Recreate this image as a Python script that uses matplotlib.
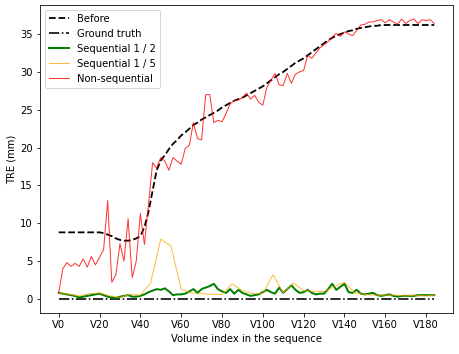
import matplotlib
matplotlib.use("Agg")
import matplotlib.pyplot as plt
import numpy as np

# volume indices
idx2 = list(range(0, 185, 2))
idx5 = list(range(0, 181, 5)) + [184]

before = [8.8, 8.8, 8.8, 8.8, 8.8, 8.8, 8.8, 8.8, 8.8, 8.8, 8.8,
          8.7, 8.5, 8.3, 8.0, 7.8, 7.7, 7.7, 7.8, 8.0, 8.3,
          9.5, 11.5, 14.3, 17.0, 18.3, 19.0, 19.8, 20.5, 21.0, 21.6,
          22.0, 22.5, 23.0, 23.3, 23.7, 24.0, 24.3, 24.6, 24.9, 25.3,
          25.6, 25.9, 26.2, 26.4, 26.6, 26.9, 27.2, 27.5, 27.8, 28.1,
          28.5, 28.9, 29.3, 29.7, 30.0, 30.4, 30.8, 31.2, 31.5, 31.8,
          32.2, 32.6, 33.0, 33.4, 33.8, 34.2, 34.5, 34.8, 35.0, 35.2,
          35.4, 35.5, 35.7, 35.8, 35.9, 36.0, 36.1, 36.1, 36.2, 36.2,
          36.2, 36.2, 36.2, 36.2, 36.2, 36.2, 36.2, 36.2, 36.2, 36.2,
          36.2, 36.2]

ground_truth = [0.0] * len(idx2)

seq_half = [0.8, 0.7, 0.6, 0.5, 0.4, 0.2, 0.3, 0.4, 0.5, 0.6, 0.7,
            0.5, 0.3, 0.2, 0.1, 0.3, 0.4, 0.5, 0.3, 0.3, 0.4,
            0.6, 0.9, 1.1, 1.3, 1.2, 1.4, 1.0, 0.5, 0.6, 0.6,
            0.7, 1.0, 1.3, 0.8, 1.3, 1.5, 1.7, 2.0, 1.3, 1.0,
            0.8, 1.3, 0.7, 1.2, 0.8, 0.6, 0.4, 0.5, 0.6, 0.9,
            1.2, 0.9, 0.7, 1.5, 0.8, 1.3, 1.8, 1.2, 0.8, 0.9,
            1.2, 0.8, 0.6, 0.7, 0.7, 1.3, 2.0, 1.2, 1.6, 2.0,
            0.9, 0.8, 1.2, 0.7, 0.6, 0.7, 0.8, 0.5, 0.4, 0.5,
            0.6, 0.4, 0.3, 0.4, 0.4, 0.4, 0.4, 0.5, 0.5, 0.5,
            0.5, 0.5]

seq_fifth = [0.8, 0.6, 0.4, 0.7, 0.8, 0.4, 0.2, 0.6, 0.5, 2.1,
             7.9, 7.0, 1.3, 0.8, 0.7, 0.6, 0.6, 2.0, 1.1, 0.7,
             0.7, 3.2, 0.8, 2.1, 1.1, 1.0, 1.0, 1.6, 2.2, 0.8,
             0.6, 0.5, 0.5, 0.5, 0.4, 0.5, 0.4, 0.5]

non_seq = [0.8, 4.0, 4.8, 4.3, 4.7, 4.3, 5.3, 4.2, 5.6, 4.5, 5.5,
           6.5, 13.0, 2.2, 3.2, 7.3, 5.0, 10.6, 2.8, 5.0, 11.3,
           7.2, 12.5, 18.0, 17.3, 18.7, 18.2, 17.0, 18.7, 18.2, 17.8,
           19.9, 20.3, 23.3, 21.2, 21.0, 27.0, 27.0, 23.3, 23.6, 23.4,
           24.5, 25.8, 26.2, 26.3, 26.6, 27.2, 26.4, 26.9, 26.0, 25.6,
           28.0, 28.9, 29.8, 28.3, 28.2, 29.8, 28.5, 29.7, 30.0, 30.2,
           32.2, 31.8, 32.5, 33.2, 33.6, 34.0, 34.6, 35.1, 34.7, 35.3,
           35.0, 34.8, 35.5, 36.2, 36.3, 36.6, 36.6, 36.8, 36.9, 36.5,
           36.9, 36.6, 36.3, 37.0, 36.4, 36.8, 37.0, 36.4, 36.9, 36.8,
           36.9, 36.4]

tick_pos = list(range(0, 181, 20))
tick_labels = [f"V{t}" for t in tick_pos]

fig = plt.figure(figsize=(459 / 72, 354 / 72), dpi=72)
ax = fig.add_axes([0.087, 0.116, 0.900, 0.870])

ax.plot(idx2, before, "k--", linewidth=1.8, label="Before")
ax.plot(idx2, ground_truth, "k-.", linewidth=1.6, label="Ground truth")
ax.plot(idx2, seq_half, color="green", linewidth=2, label="Sequential 1 / 2")
ax.plot(idx5, seq_fifth, color="orange", alpha=0.75, linewidth=1,
        label="Sequential 1 / 5")
ax.plot(idx2, non_seq, color="red", alpha=0.8, linewidth=1,
        label="Non-sequential")

ax.set_xticks(tick_pos)
ax.set_xticklabels(tick_labels)
ax.set_xlabel("Volume index in the sequence")
ax.set_ylabel("TRE (mm)")
ax.legend(loc="upper left")

fig.savefig("out.png", dpi=72)
